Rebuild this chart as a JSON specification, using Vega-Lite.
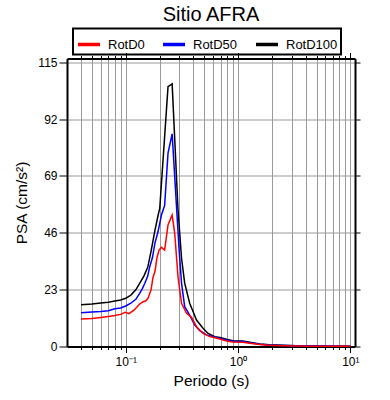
{
  "$schema": "https://vega.github.io/schema/vega-lite/v6.json",
  "width": 288,
  "height": 288,
  "autosize": "none",
  "padding": {"left": 67, "top": 58.5, "right": 35, "bottom": 53.5},
  "background": "white",
  "title": {"text": "Sitio AFRA", "fontSize": 20, "font": "Liberation Sans", "fontWeight": "normal", "color": "black", "anchor": "middle", "frame": "group", "offset": 3},
  "data": {"values": [
    {"T": 0.04, "PSA": 16.9, "c": "RotD100"},
    {"T": 0.05, "PSA": 17.2, "c": "RotD100"},
    {"T": 0.06, "PSA": 17.6, "c": "RotD100"},
    {"T": 0.07, "PSA": 17.9, "c": "RotD100"},
    {"T": 0.08, "PSA": 18.4, "c": "RotD100"},
    {"T": 0.09, "PSA": 18.8, "c": "RotD100"},
    {"T": 0.1, "PSA": 19.5, "c": "RotD100"},
    {"T": 0.111, "PSA": 20.8, "c": "RotD100"},
    {"T": 0.123, "PSA": 22.9, "c": "RotD100"},
    {"T": 0.133, "PSA": 25.5, "c": "RotD100"},
    {"T": 0.145, "PSA": 28.5, "c": "RotD100"},
    {"T": 0.157, "PSA": 32.0, "c": "RotD100"},
    {"T": 0.168, "PSA": 38.5, "c": "RotD100"},
    {"T": 0.182, "PSA": 47.0, "c": "RotD100"},
    {"T": 0.194, "PSA": 53.0, "c": "RotD100"},
    {"T": 0.201, "PSA": 56.0, "c": "RotD100"},
    {"T": 0.238, "PSA": 105.1, "c": "RotD100"},
    {"T": 0.259, "PSA": 106.2, "c": "RotD100"},
    {"T": 0.292, "PSA": 55.5, "c": "RotD100"},
    {"T": 0.314, "PSA": 35.7, "c": "RotD100"},
    {"T": 0.335, "PSA": 25.6, "c": "RotD100"},
    {"T": 0.371, "PSA": 17.5, "c": "RotD100"},
    {"T": 0.427, "PSA": 10.7, "c": "RotD100"},
    {"T": 0.488, "PSA": 7.4, "c": "RotD100"},
    {"T": 0.541, "PSA": 5.3, "c": "RotD100"},
    {"T": 0.62, "PSA": 4.0, "c": "RotD100"},
    {"T": 0.69, "PSA": 3.6, "c": "RotD100"},
    {"T": 0.79, "PSA": 2.9, "c": "RotD100"},
    {"T": 0.9, "PSA": 2.3, "c": "RotD100"},
    {"T": 1.1, "PSA": 2.2, "c": "RotD100"},
    {"T": 1.27, "PSA": 1.7, "c": "RotD100"},
    {"T": 1.56, "PSA": 1.0, "c": "RotD100"},
    {"T": 1.9, "PSA": 0.7, "c": "RotD100"},
    {"T": 2.5, "PSA": 0.5, "c": "RotD100"},
    {"T": 3.3, "PSA": 0.3, "c": "RotD100"},
    {"T": 5.0, "PSA": 0.2, "c": "RotD100"},
    {"T": 7.0, "PSA": 0.15, "c": "RotD100"},
    {"T": 10.0, "PSA": 0.1, "c": "RotD100"},

    {"T": 0.04, "PSA": 13.7, "c": "RotD50"},
    {"T": 0.05, "PSA": 14.0, "c": "RotD50"},
    {"T": 0.06, "PSA": 14.2, "c": "RotD50"},
    {"T": 0.07, "PSA": 14.5, "c": "RotD50"},
    {"T": 0.08, "PSA": 15.3, "c": "RotD50"},
    {"T": 0.09, "PSA": 15.6, "c": "RotD50"},
    {"T": 0.1, "PSA": 16.4, "c": "RotD50"},
    {"T": 0.111, "PSA": 17.5, "c": "RotD50"},
    {"T": 0.123, "PSA": 19.1, "c": "RotD50"},
    {"T": 0.133, "PSA": 21.5, "c": "RotD50"},
    {"T": 0.141, "PSA": 23.5, "c": "RotD50"},
    {"T": 0.148, "PSA": 25.6, "c": "RotD50"},
    {"T": 0.157, "PSA": 28.5, "c": "RotD50"},
    {"T": 0.163, "PSA": 32.0, "c": "RotD50"},
    {"T": 0.173, "PSA": 36.0, "c": "RotD50"},
    {"T": 0.182, "PSA": 41.8, "c": "RotD50"},
    {"T": 0.194, "PSA": 46.5, "c": "RotD50"},
    {"T": 0.208, "PSA": 53.2, "c": "RotD50"},
    {"T": 0.222, "PSA": 57.0, "c": "RotD50"},
    {"T": 0.238, "PSA": 78.2, "c": "RotD50"},
    {"T": 0.259, "PSA": 86.0, "c": "RotD50"},
    {"T": 0.283, "PSA": 57.0, "c": "RotD50"},
    {"T": 0.299, "PSA": 39.0, "c": "RotD50"},
    {"T": 0.314, "PSA": 25.6, "c": "RotD50"},
    {"T": 0.335, "PSA": 16.1, "c": "RotD50"},
    {"T": 0.371, "PSA": 12.7, "c": "RotD50"},
    {"T": 0.412, "PSA": 8.7, "c": "RotD50"},
    {"T": 0.456, "PSA": 6.4, "c": "RotD50"},
    {"T": 0.523, "PSA": 4.7, "c": "RotD50"},
    {"T": 0.642, "PSA": 3.6, "c": "RotD50"},
    {"T": 0.79, "PSA": 2.6, "c": "RotD50"},
    {"T": 0.9, "PSA": 2.1, "c": "RotD50"},
    {"T": 1.1, "PSA": 2.0, "c": "RotD50"},
    {"T": 1.27, "PSA": 1.5, "c": "RotD50"},
    {"T": 1.56, "PSA": 0.9, "c": "RotD50"},
    {"T": 1.9, "PSA": 0.6, "c": "RotD50"},
    {"T": 2.5, "PSA": 0.4, "c": "RotD50"},
    {"T": 3.3, "PSA": 0.3, "c": "RotD50"},
    {"T": 5.0, "PSA": 0.2, "c": "RotD50"},
    {"T": 10.0, "PSA": 0.1, "c": "RotD50"},

    {"T": 0.04, "PSA": 11.1, "c": "RotD0"},
    {"T": 0.05, "PSA": 11.3, "c": "RotD0"},
    {"T": 0.06, "PSA": 11.7, "c": "RotD0"},
    {"T": 0.07, "PSA": 12.1, "c": "RotD0"},
    {"T": 0.08, "PSA": 12.5, "c": "RotD0"},
    {"T": 0.09, "PSA": 13.0, "c": "RotD0"},
    {"T": 0.099, "PSA": 13.8, "c": "RotD0"},
    {"T": 0.107, "PSA": 13.3, "c": "RotD0"},
    {"T": 0.119, "PSA": 14.8, "c": "RotD0"},
    {"T": 0.133, "PSA": 17.2, "c": "RotD0"},
    {"T": 0.143, "PSA": 18.1, "c": "RotD0"},
    {"T": 0.151, "PSA": 18.5, "c": "RotD0"},
    {"T": 0.158, "PSA": 19.5, "c": "RotD0"},
    {"T": 0.168, "PSA": 22.9, "c": "RotD0"},
    {"T": 0.175, "PSA": 28.0, "c": "RotD0"},
    {"T": 0.182, "PSA": 30.3, "c": "RotD0"},
    {"T": 0.19, "PSA": 36.0, "c": "RotD0"},
    {"T": 0.198, "PSA": 39.0, "c": "RotD0"},
    {"T": 0.208, "PSA": 40.1, "c": "RotD0"},
    {"T": 0.222, "PSA": 39.0, "c": "RotD0"},
    {"T": 0.238, "PSA": 49.2, "c": "RotD0"},
    {"T": 0.259, "PSA": 53.2, "c": "RotD0"},
    {"T": 0.273, "PSA": 45.8, "c": "RotD0"},
    {"T": 0.292, "PSA": 28.2, "c": "RotD0"},
    {"T": 0.314, "PSA": 17.5, "c": "RotD0"},
    {"T": 0.348, "PSA": 13.4, "c": "RotD0"},
    {"T": 0.385, "PSA": 11.8, "c": "RotD0"},
    {"T": 0.427, "PSA": 8.0, "c": "RotD0"},
    {"T": 0.488, "PSA": 5.3, "c": "RotD0"},
    {"T": 0.56, "PSA": 4.0, "c": "RotD0"},
    {"T": 0.664, "PSA": 3.2, "c": "RotD0"},
    {"T": 0.79, "PSA": 2.2, "c": "RotD0"},
    {"T": 0.9, "PSA": 1.8, "c": "RotD0"},
    {"T": 1.1, "PSA": 1.7, "c": "RotD0"},
    {"T": 1.27, "PSA": 1.3, "c": "RotD0"},
    {"T": 1.56, "PSA": 0.8, "c": "RotD0"},
    {"T": 1.9, "PSA": 0.5, "c": "RotD0"},
    {"T": 2.5, "PSA": 0.35, "c": "RotD0"},
    {"T": 3.3, "PSA": 0.25, "c": "RotD0"},
    {"T": 5.0, "PSA": 0.15, "c": "RotD0"},
    {"T": 10.0, "PSA": 0.1, "c": "RotD0"}
  ]},
  "layer": [
    {
      "mark": {"type": "line", "strokeWidth": 1.5},
      "encoding": {
        "x": {"field": "T", "type": "quantitative",
          "scale": {"type": "log", "domain": [0.03, 11], "nice": false},
          "axis": {"orient": "bottom", "title": "Periodo (s)",
            "values": [0.04,0.05,0.06,0.07,0.08,0.09,0.1,0.2,0.3,0.4,0.5,0.6,0.7,0.8,0.9,1,2,3,4,5,6,7,8,9,10],
            "labelExpr": "datum.value == 0.1 ? '10⁻¹' : datum.value == 1 ? '10⁰' : datum.value == 10 ? '10¹' : ''",
            "tickSize": {"condition": {"test": "datum.value == 0.1 || datum.value == 1 || datum.value == 10", "value": 6}, "value": 3},
            "labelPadding": 4, "labelOverlap": false, "grid": true, "titlePadding": 6}},
        "y": {"field": "PSA", "type": "quantitative",
          "scale": {"domain": [0, 116.5], "nice": false, "zero": true},
          "axis": {"orient": "left", "title": "PSA (cm/s²)", "values": [0,23,46,69,92,115],
            "tickSize": 8, "labelPadding": 2, "grid": true,
            "gridOpacity": {"condition": {"test": "datum.value == 0", "value": 0}, "value": 1},
            "titlePadding": 8}},
        "color": {"field": "c", "type": "nominal",
          "scale": {"domain": ["RotD0", "RotD50", "RotD100"], "range": ["#ff0000", "#0000ff", "#000000"]},
          "legend": {"orient": "none", "legendX": 6, "legendY": -30, "direction": "horizontal", "title": null}}
      }
    },
    {
      "mark": {"type": "line", "strokeOpacity": 0},
      "encoding": {
        "x": {"field": "T", "type": "quantitative",
          "axis": {"orient": "top", "title": null, "labels": false, "grid": false,
            "values": [0.04,0.05,0.06,0.07,0.08,0.09,0.1,0.2,0.3,0.4,0.5,0.6,0.7,0.8,0.9,1,2,3,4,5,6,7,8,9,10],
            "tickSize": {"condition": {"test": "datum.value == 0.1 || datum.value == 1 || datum.value == 10", "value": 6}, "value": 3}}},
        "y": {"field": "PSA", "type": "quantitative",
          "axis": {"orient": "right", "title": null, "labels": false, "grid": false, "values": [0,23,46,69,92,115], "tickSize": 5}},
        "detail": {"field": "c", "type": "nominal"}
      }
    }
  ],
  "resolve": {"axis": {"x": "independent", "y": "independent"}},
  "config": {
    "view": {"stroke": null},
    "font": "Liberation Sans",
    "axis": {
      "domain": true, "domainColor": "black", "domainWidth": 2,
      "tickColor": "black", "tickWidth": 1,
      "labelFont": "Liberation Sans", "labelFontSize": 12, "labelColor": "black",
      "titleFont": "Liberation Sans", "titleFontSize": 15.5, "titleFontWeight": "normal", "titleColor": "black",
      "gridColor": "#9a9a9a", "gridWidth": 1
    },
    "legend": {
      "symbolType": "stroke", "symbolSize": 484, "symbolStrokeWidth": 3.5,
      "labelFont": "Liberation Sans", "labelFontSize": 13, "labelColor": "black",
      "labelOffset": 6, "columnPadding": 11, "padding": 3,
      "strokeColor": "black", "strokeWidth": 2
    }
  }
}
